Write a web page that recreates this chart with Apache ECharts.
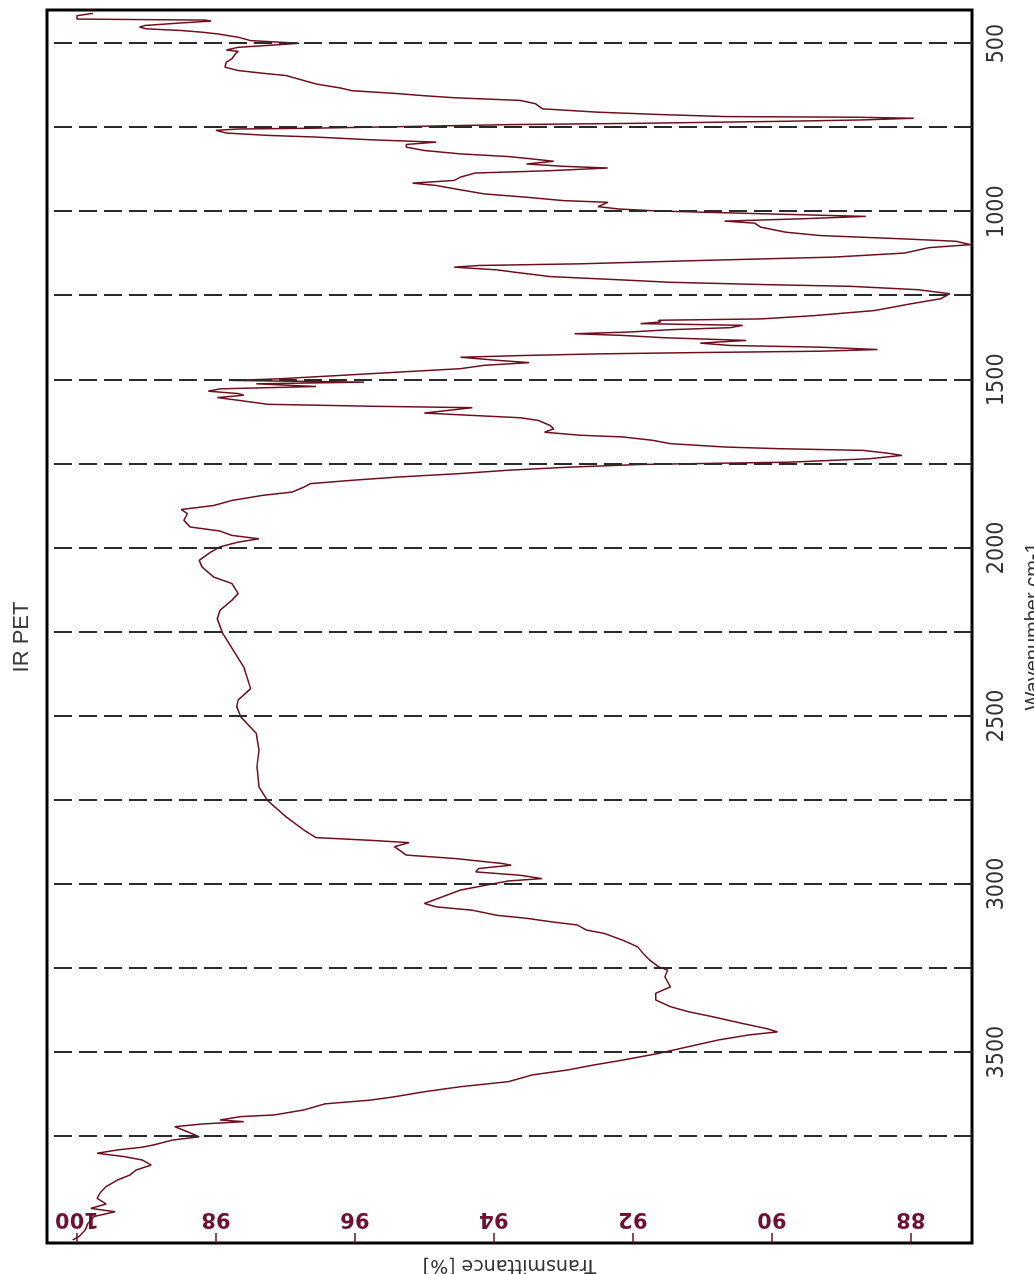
<!DOCTYPE html>
<html>
<head>
<meta charset="utf-8">
<title>IR PET</title>
<script src="https://cdn.jsdelivr.net/npm/echarts@6/dist/echarts.min.js"></script>
<style>
	html, body { margin: 0; padding: 0; background: #fff; overflow: hidden; }
	/* the chart is drawn upright, then turned a quarter to the left like the scan */
	#canvs1 {
		position: absolute;
		left: 0;
		top: 0;
		width: 1274px;
		height: 1034px;
		transform-origin: 0 0;
		transform: translate(0, 1274px) rotate(-90deg);
	}
</style>
</head>
<body>
<div id="canvs1"></div>
<script>
var wavenumber = [
	410, 417, 427, 430, 433, 439, 446, 451, 456, 461, 466, 471, 481, 491, 499, 503, 511, 519, 523, 531,
	545, 555, 570, 580, 588, 595, 610, 620, 632, 640, 648, 655, 661, 669, 679, 694, 704, 711, 717, 719,
	722, 727, 731, 737, 741, 747, 752, 754, 758, 766, 773, 778, 786, 793, 800, 808, 818, 828, 836, 843,
	850, 858, 865, 870, 878, 885, 897, 907, 915, 922, 935, 947, 957, 967, 972, 985, 992, 998, 1006, 1014,
	1021, 1028, 1034, 1046, 1061, 1071, 1081, 1088, 1098, 1107, 1123, 1135, 1145, 1155, 1160, 1165, 1173, 1180, 1193, 1203,
	1210, 1217, 1222, 1232, 1244, 1259, 1274, 1294, 1309, 1319, 1323, 1328, 1333, 1338, 1345, 1351, 1358, 1363, 1368, 1375,
	1383, 1391, 1398, 1403, 1410, 1415, 1419, 1423, 1428, 1433, 1442, 1449, 1457, 1467, 1477, 1487, 1497, 1502, 1507, 1512,
	1520, 1527, 1534, 1541, 1546, 1553, 1561, 1573, 1579, 1583, 1591, 1599, 1606, 1613, 1621, 1636, 1646, 1656, 1665, 1670,
	1680, 1690, 1700, 1705, 1710, 1718, 1725, 1735, 1745, 1752, 1760, 1769, 1779, 1789, 1799, 1809, 1819, 1834, 1844, 1859,
	1874, 1886, 1898, 1918, 1938, 1950, 1963, 1973, 1983, 1997, 2012, 2037, 2057, 2087, 2106, 2136, 2156, 2186, 2211, 2255,
	2354, 2419, 2453, 2473, 2503, 2552, 2602, 2651, 2711, 2751, 2800, 2840, 2862, 2870, 2877, 2889, 2914, 2924, 2939, 2944,
	2954, 2964, 2974, 2984, 2991, 3003, 3018, 3038, 3058, 3068, 3078, 3093, 3102, 3112, 3122, 3137, 3147, 3167, 3187, 3207,
	3226, 3246, 3256, 3276, 3306, 3325, 3345, 3365, 3380, 3395, 3415, 3430, 3440, 3449, 3464, 3484, 3504, 3524, 3539, 3553,
	3568, 3588, 3603, 3618, 3633, 3643, 3654, 3672, 3687, 3692, 3702, 3707, 3714, 3722, 3737, 3752, 3762, 3776, 3783, 3791,
	3801, 3811, 3821, 3836, 3851, 3866, 3880, 3900, 3920, 3935, 3952, 3965, 3975, 3989, 4009, 4029, 4049, 4059
];
var transmittance = [
	99.77, 100.0, 100.0, 98.15, 98.07, 98.54, 99.02, 99.1, 99.0, 98.5, 98.2, 97.98, 97.68, 97.5, 96.8, 97.08, 97.68, 97.85, 97.68, 97.72,
	97.77, 97.85, 97.87, 97.68, 97.33, 96.99, 96.73, 96.56, 96.21, 96.04, 95.43, 95.0, 94.57, 93.62, 93.4, 93.3, 92.5, 91.6, 90.68, 88.78,
	87.96, 88.69, 89.8, 91.9, 93.79, 95.35, 96.73, 97.68, 98.0, 97.85, 97.25, 96.56, 95.78, 94.83, 95.26, 95.26, 95.0, 94.48, 93.79, 93.45,
	93.14, 93.53, 93.0, 92.36, 93.19, 94.27, 94.48, 94.57, 95.17, 94.83, 94.48, 94.14, 93.53, 93.0, 92.36, 92.5, 92.2, 91.63, 90.16, 88.65,
	89.56, 90.68, 90.25, 90.16, 89.8, 89.3, 88.09, 87.35, 87.14, 87.74, 88.09, 89.1, 91.0, 92.75, 94.22, 94.57, 93.96, 93.7, 93.19, 92.15,
	91.46, 90.07, 88.87, 87.9, 87.44, 87.57, 88.0, 88.52, 89.38, 90.16, 91.63, 91.6, 91.89, 90.42, 90.6, 91.46, 92.06, 92.84, 92.15, 91.54,
	90.37, 91.03, 90.6, 89.3, 88.48, 89.3, 91.03, 92.5, 93.62, 94.48, 93.96, 93.49, 94.14, 94.48, 95.35, 96.21, 97.08, 97.77, 95.87, 97.42,
	96.56, 97.94, 98.11, 97.68, 97.6, 97.98, 97.68, 97.25, 95.69, 94.31, 94.65, 95.0, 94.31, 93.62, 93.36, 93.19, 93.14, 93.27, 92.76, 92.15,
	91.72, 91.46, 90.68, 89.9, 88.69, 88.35, 88.13, 88.6, 89.73, 91.89, 92.93, 93.79, 94.48, 95.35, 96.04, 96.64, 96.73, 96.9, 97.33, 97.77,
	98.03, 98.5, 98.41, 98.46, 98.37, 97.94, 97.77, 97.38, 97.68, 97.94, 98.07, 98.24, 98.2, 98.03, 97.77, 97.68, 97.77, 97.94, 97.98, 97.9,
	97.6, 97.5, 97.68, 97.7, 97.64, 97.42, 97.38, 97.41, 97.38, 97.26, 96.99, 96.73, 96.56, 95.78, 95.22, 95.43, 95.26, 94.57, 93.88, 93.75,
	94.22, 94.26, 93.62, 93.31, 93.79, 94.1, 94.48, 94.74, 95.0, 94.83, 94.31, 93.96, 93.53, 93.19, 92.8, 92.67, 92.41, 92.15, 91.93, 91.85,
	91.76, 91.63, 91.5, 91.54, 91.46, 91.67, 91.67, 91.46, 91.2, 90.85, 90.42, 90.08, 89.92, 90.33, 90.77, 91.2, 91.63, 92.15, 92.58, 92.93,
	93.45, 93.79, 94.48, 95.0, 95.43, 95.78, 96.43, 96.73, 97.16, 97.64, 97.94, 97.6, 98.2, 98.59, 98.41, 98.24, 98.63, 98.89, 99.06, 99.41,
	99.71, 99.32, 99.06, 98.93, 99.15, 99.24, 99.41, 99.58, 99.67, 99.71, 99.58, 99.8, 99.45, 99.75, 99.84, 99.88, 99.97, 100.06
];
var wavenumberLabels = [500, 1000, 1500, 2000, 2500, 3000, 3500];
var transmittanceLabels = [88, 90, 92, 94, 96, 98, 100];
var dashedLines = [500, 750, 1000, 1250, 1500, 1750, 2000, 2250, 2500, 2750, 3000, 3250, 3500, 3750];

var SpectrumPage = function () { }

SpectrumPage.prototype = {
	lineColor: '#6e0f1e',
	init: function () {
		if (!window.echarts) {
			return;
		}
		var $canvs1 = echarts.init(document.getElementById('canvs1'));
		$canvs1.setOption(this.buildOption(), true);
	},
	buildOption: function () {
		var points = wavenumber.map(function (w, i) { return [w, transmittance[i]]; });
		return {
			animation: false,
			backgroundColor: '#fff',
			title: {
				text: 'IR PET',
				left: 'center',
				top: 11,
				padding: 0,
				textStyle: { fontFamily: 'Liberation Sans', fontSize: 22, fontWeight: 'normal', color: '#3a3a3a' }
			},
			grid: {
				left: 31,
				right: 10,
				top: 47,
				bottom: 62,
				show: true,
				borderColor: '#000',
				borderWidth: 3,
				outerBoundsMode: 'none'
			},
			xAxis: {
				type: 'value',
				min: 400,
				max: 4068,
				inverse: true,
				name: 'Wavenumber cm-1',
				nameLocation: 'middle',
				nameGap: 51,
				nameTextStyle: { fontFamily: 'Liberation Sans', fontSize: 20, color: '#333' },
				axisLine: { show: false },
				axisTick: { show: false },
				splitLine: { show: false },
				axisLabel: {
					customValues: wavenumberLabels,
					margin: 14,
					formatter: function (v) { return String(v); },
					fontFamily: "'Liberation Sans Narrow', 'DejaVu Sans Condensed', 'Liberation Sans', sans-serif",
					fontSize: 23,
					color: '#333'
				}
			},
			yAxis: {
				type: 'value',
				min: 87.12,
				max: 100.43,
				name: 'Transmittance [%]',
				nameLocation: 'middle',
				nameRotate: 90,
				nameGap: 12,
				nameTextStyle: { fontFamily: 'DejaVu Sans', fontSize: 19, color: '#333' },
				axisLine: { show: false },
				splitLine: { show: false },
				axisTick: {
					customValues: transmittanceLabels,
					inside: true,
					length: 10,
					lineStyle: { color: this.lineColor, width: 1.5 }
				},
				axisLabel: {
					customValues: transmittanceLabels,
					inside: true,
					rotate: 90,
					margin: 14,
					fontFamily: 'DejaVu Sans',
					fontWeight: 'bold',
					fontSize: 21,
					color: '#701030'
				}
			},
			series: [{
				type: 'line',
				data: points,
				showSymbol: false,
				symbol: 'none',
				lineStyle: { color: this.lineColor, width: 1.5 },
				markLine: {
					silent: true,
					symbol: 'none',
					label: { show: false },
					lineStyle: { color: '#2a2a2a', type: [18, 7], width: 2 },
					data: dashedLines.map(function (w) { return { xAxis: w }; })
				}
			}]
		};
	}
}
window.onload = function () {
	var page = new SpectrumPage();
	page.init();
}
</script>
</body>
</html>
